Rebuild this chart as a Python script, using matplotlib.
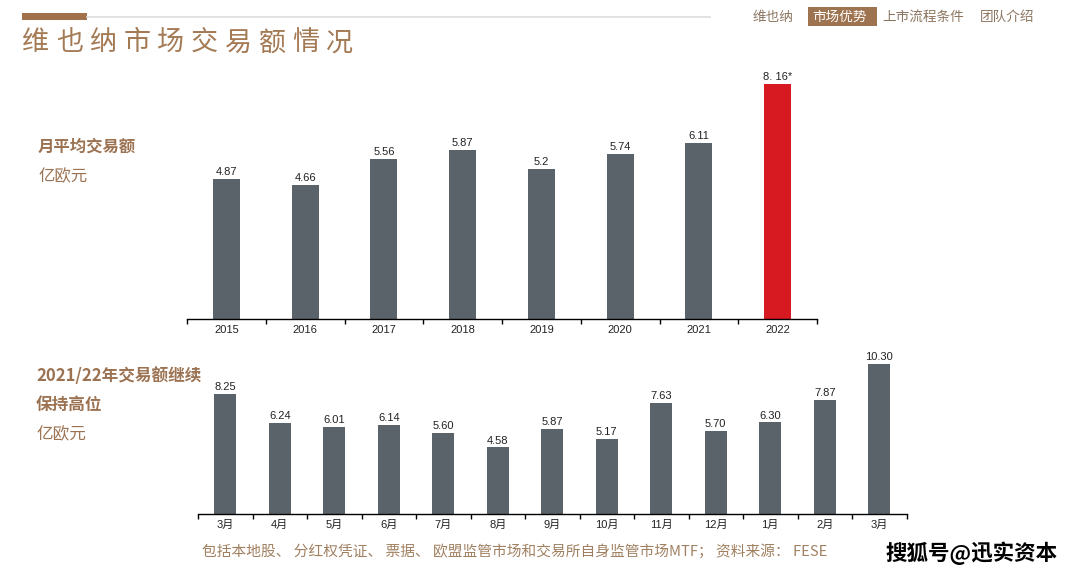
import matplotlib
matplotlib.use("Agg")
import matplotlib.pyplot as plt
import numpy as np

plt.rcParams['font.family'] = ['Liberation Sans', 'Noto Sans CJK SC', 'DejaVu Sans']

# data
years = ["2015", "2016", "2017", "2018", "2019", "2020", "2021", "2022"]
yearly_avg = [4.87, 4.66, 5.56, 5.87, 5.20, 5.74, 6.11, 8.16]
yearly_labels = ["4.87", "4.66", "5.56", "5.87", "5.2", "5.74", "6.11", "8. 16*"]

months = ["3月", "4月", "5月", "6月", "7月", "8月", "9月", "10月", "11月", "12月", "1月", "2月", "3月"]
monthly_vals = [8.25, 6.24, 6.01, 6.14, 5.60, 4.58, 5.87, 5.17, 7.63, 5.70, 6.30, 7.87, 10.30]

nav_items = ["维也纳", "市场优势", "上市流程条件", "团队介绍"]
title = "维也纳市场交易额情况"
footnote = "包括本地股、 分红权凭证、 票据、 欧盟监管市场和交易所自身监管市场MTF； 资料来源： FESE"

BAR = "#5B636A"
RED = "#D71A21"
BROWN = "#A0714A"
TXT_BROWN = "#9C7352"
CJK = ['Noto Sans CJK SC', 'DejaVu Sans']

W, H = 1080, 580
fig = plt.figure(figsize=(W / 100, H / 100), dpi=100)


def fx(px):
    return px / W


def fy(py):
    return 1 - py / H


# header decoration
fig.add_artist(plt.Line2D([fx(87), fx(710)], [fy(16.5), fy(16.5)], color="#DDDDDD", lw=1.2))
fig.add_artist(plt.Rectangle((fx(22), fy(19.5)), fx(65), 6 / H, color=BROWN, lw=0))

# title with wide letter spacing
for i, ch in enumerate(title):
    fig.text(fx(22 + i * 33.8), fy(43), ch, fontsize=19.5, color="#A47A55",
             family=CJK, ha="left", va="center")

# nav bar
fig.add_artist(plt.Rectangle((fx(808), fy(26)), fx(69), 19 / H, color="#9E7350", lw=0))
nav_x = [753, 812, 882, 980]
for x, item in zip(nav_x, nav_items):
    c = "white" if item == "市场优势" else "#8B7560"
    fig.text(fx(x), fy(17), item, fontsize=9.8, color=c, family=CJK, ha="left", va="center")

# side labels
fig.text(fx(38), fy(147), "月平均交易额", fontsize=11.8, color=TXT_BROWN, family=CJK,
         weight="bold", va="center")
fig.text(fx(38), fy(177), "亿欧元", fontsize=11.8, color=TXT_BROWN, family=CJK, va="center")
fig.text(fx(36), fy(376), "2021/22年交易额继续", fontsize=12, color=TXT_BROWN, family=CJK,
         weight="bold", va="center")
fig.text(fx(36), fy(405), "保持高位", fontsize=12, color=TXT_BROWN, family=CJK,
         weight="bold", va="center")
fig.text(fx(36), fy(435), "亿欧元", fontsize=12, color=TXT_BROWN, family=CJK, va="center")


def style_axis(ax, n):
    for s in ["top", "right", "left"]:
        ax.spines[s].set_visible(False)
    ax.spines["bottom"].set_linewidth(1.0)
    ax.set_yticks([])
    ax.set_xlim(-0.5, n - 0.5)
    ax.set_xticks(np.arange(n))
    ax.tick_params(axis="x", which="major", length=0, pad=4, labelsize=8, colors="#222222")
    ax.set_xticks(np.arange(n + 1) - 0.5, minor=True)
    ax.tick_params(axis="x", which="minor", length=3.5, width=1, direction="out")
    ax.patch.set_alpha(0)


# top chart
ax1 = fig.add_axes([fx(187), fy(319), fx(630), (319 - 71) / H])
x1 = np.arange(len(years))
colors = [BAR] * (len(years) - 1) + [RED]
ax1.bar(x1, yearly_avg, width=0.34, color=colors)
ax1.set_ylim(0, 8.62)
style_axis(ax1, len(years))
ax1.set_xticklabels(years)
for x, v, lab in zip(x1, yearly_avg, yearly_labels):
    ax1.text(x, v + 0.08, lab, ha="center", va="bottom", fontsize=8, color="#222222")

# bottom chart
ax2 = fig.add_axes([fx(198), fy(514), fx(708.5), 160 / H])
x2 = np.arange(len(months))
ax2.bar(x2, monthly_vals, width=0.4, color=BAR)
ax2.set_ylim(0, 11)
style_axis(ax2, len(months))
ax2.set_xticklabels(months)
for x, v in zip(x2, monthly_vals):
    ax2.text(x, v + 0.12, f"{v:.2f}", ha="center", va="bottom", fontsize=8, color="#222222")

# footnote
fig.text(fx(202), fy(551), footnote, fontsize=10.6, color="#A08060", family=CJK, va="center")

# watermark
fig.text(fx(885), fy(553), "搜狐号@迅实资本", fontsize=15.5, color="black", family=CJK,
         weight="bold", va="center")

fig.savefig("out.png", dpi=100)
